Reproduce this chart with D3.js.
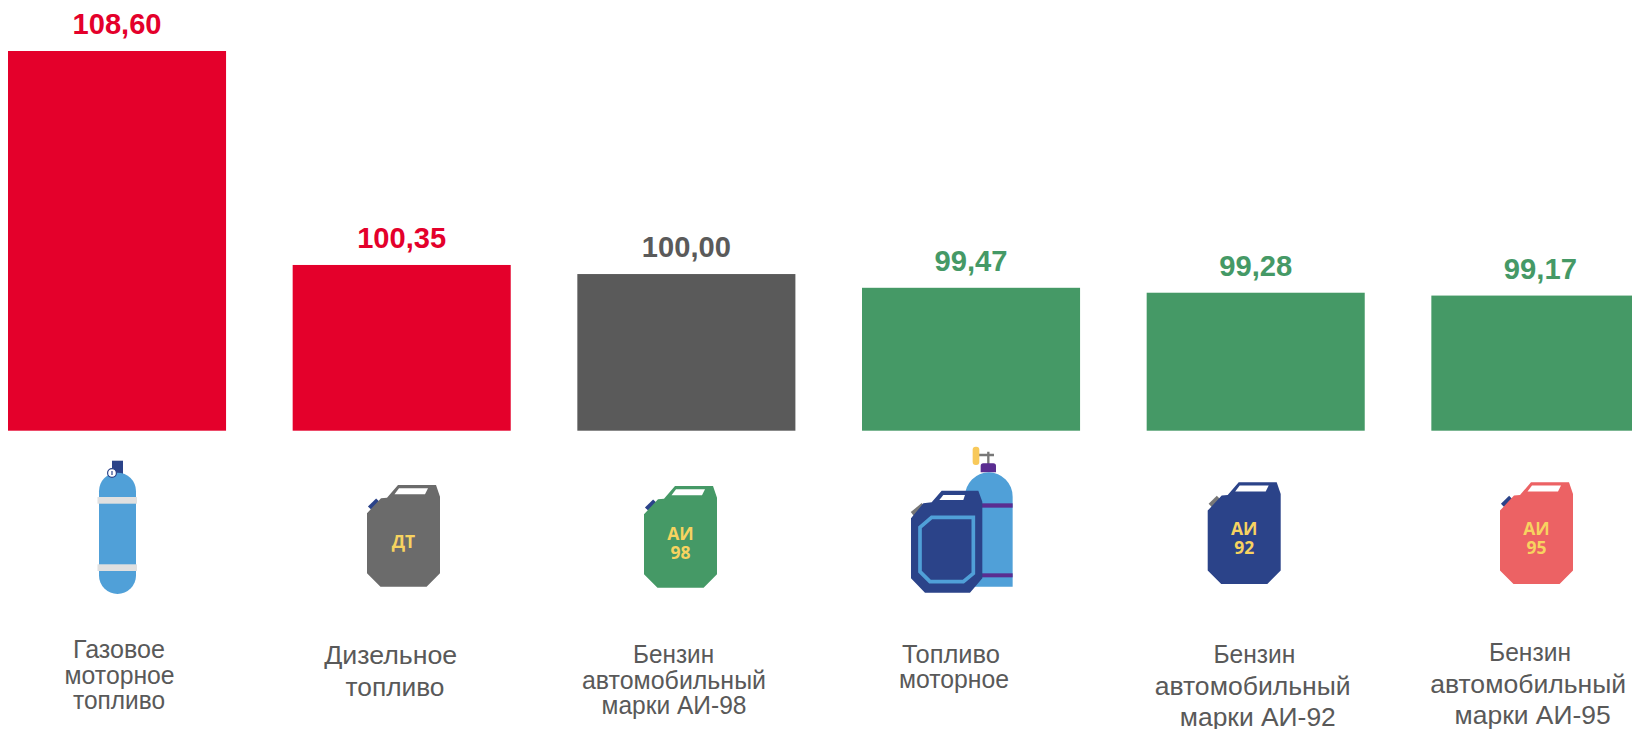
<!DOCTYPE html>
<html><head><meta charset="utf-8">
<script src="https://cdnjs.cloudflare.com/ajax/libs/d3/7.8.5/d3.min.js"></script>
<style>html,body{margin:0;padding:0;background:#fff;overflow:hidden}svg{display:block}text{font-family:"Liberation Sans",Arial,sans-serif}</style>
</head><body><svg id="c" width="1632" height="729"></svg>
<script>
const categories = ["Газовое моторное топливо","Дизельное топливо","Бензин автомобильный марки АИ-98","Топливо моторное","Бензин автомобильный марки АИ-92","Бензин автомобильный марки АИ-95"];
const values = [108.60,100.35,100.00,99.47,99.28,99.17];
const groups = ["above","above","base","below","below","below"];
const categoryLines = [
  ["Газовое","моторное","топливо"],
  ["Дизельное","топливо"],
  ["Бензин","автомобильный","марки АИ-98"],
  ["Топливо","моторное"],
  ["Бензин","автомобильный","марки АИ-92"],
  ["Бензин","автомобильный","марки АИ-95"]
];
const canBadges = [null,["ДТ"],["АИ","98"],null,["АИ","92"],["АИ","95"]];

// ---- layout / style (separate from data)
const color = d3.scaleOrdinal(["above","base","below"],["#e4002b","#5a5a5a","#459966"]);
const x = d3.scaleBand(categories,[8,1649.4]).paddingInner(0.234);
const y = d3.scaleLinear([93.96,108.6],[430.7,51]);
const svg = d3.select("#c");
const fmt = v => v.toFixed(2).replace(".",",");

svg.append("g").selectAll("rect").data(categories).join("rect")
  .attr("x",d=>x(d)).attr("width",x.bandwidth())
  .attr("y",(d,i)=>y(values[i])).attr("height",(d,i)=>y(y.domain()[0])-y(values[i]))
  .attr("fill",(d,i)=>color(groups[i]));

svg.append("g").selectAll("text").data(categories).join("text")
  .attr("x",d=>x(d)+x.bandwidth()/2).attr("y",(d,i)=>y(values[i])-17)
  .attr("text-anchor","middle").attr("font-size",30).attr("font-weight",700)
  .attr("textLength",(d,i)=>values[i]>=100?89:73).attr("lengthAdjust","spacingAndGlyphs")
  .attr("fill",(d,i)=>color(groups[i])).text((d,i)=>fmt(values[i]));

// category labels: [centre x, baseline, fitted width] per line
const labelPlace = [
  [[119,658,92],[119.6,684,110],[119,709,92]],
  [[390.7,664,133],[395,696,99]],
  [[673.6,663,81],[674,689,184],[674,714,145]],
  [[951,662.7,98],[954,688,110]],
  [[1254.4,662.7,82],[1252.7,695,196],[1257.8,726,156]],
  [[1530,660.7,82],[1528.2,692.7,196],[1532.6,724,156]]
];
const labelSize = [26,25,26,26,25,25];
const labels = svg.append("g");
categoryLines.forEach((lines,i)=>lines.forEach((t,j)=>{
  const p = labelPlace[i][j];
  labels.append("text").attr("x",p[0]).attr("y",p[1]).attr("text-anchor","middle")
    .attr("font-size",labelSize[i]).attr("fill","#595959")
    .attr("textLength",p[2]).attr("lengthAdjust","spacingAndGlyphs").text(t);
}));

// icons
const line = d3.line().curve(d3.curveLinearClosed);
const NAVY="#2b4389", BLUE="#50a0d8", YEL="#f7d360";
function can(cx,top,body,spout,badge,by){
  const g = svg.append("g").attr("transform",`translate(${cx-36.5},${top})`);
  g.append("line").attr("x1",2.5).attr("y1",23).attr("x2",10.7).attr("y2",15)
    .attr("stroke",spout).attr("stroke-width",4.5);
  g.append("path").attr("fill",body)
    .attr("d",line([[31,0],[69,0],[73,11.7],[73,88.3],[59.6,101.7],[13.5,101.7],[0,88.3],[0,28.3],[14,13.3],[20,12.7]]));
  g.append("path").attr("fill","#fff").attr("d",line([[32,3.3],[61,3.3],[58,9.3],[27.5,9.3]]));
  const tx = g.append("text").attr("text-anchor","middle").attr("font-size",17.5).attr("font-weight",700)
    .style("font-family","'Open Sans',sans-serif").attr("fill",YEL);
  badge.forEach((t,k)=>tx.append("tspan").attr("x",36.5).attr("y",by[k]-top).text(t));
}
function bottle(){
  const g = svg.append("g");
  g.append("rect").attr("x",112).attr("y",460.7).attr("width",11).attr("height",14).attr("fill",NAVY);
  g.append("rect").attr("x",99).attr("y",472.7).attr("width",37).attr("height",121.3).attr("rx",18.5).attr("fill",BLUE);
  [497,564.3].forEach(v=>g.append("rect").attr("x",97.5).attr("y",v).attr("width",39.5).attr("height",6.7).attr("fill","#e0e0e0"));
  g.append("circle").attr("cx",112).attr("cy",473).attr("r",4.4).attr("fill","#fff").attr("stroke",NAVY).attr("stroke-width",1.2);
  g.append("line").attr("x1",112).attr("y1",471).attr("x2",112).attr("y2",475).attr("stroke",NAVY).attr("stroke-width",1.2);
}
function combo(){
  const g = svg.append("g").attr("transform","translate(880,440) scale(0.3333)");
  g.append("path").attr("d","M285,45H342M325,35V72").attr("stroke","#777").attr("stroke-width",7).attr("fill","none");
  g.append("rect").attr("x",278).attr("y",20).attr("width",20).attr("height",55).attr("rx",9).attr("fill","#f8c95a");
  g.append("path").attr("d","M302,97V78Q302,70 310,70H340Q348,70 348,78V97Z").attr("fill","#5a2d91");
  g.append("path").attr("d","M255,440V170A71.5,73 0 0 1 398,170V440Z").attr("fill",BLUE);
  [[190,13],[400,12]].forEach(s=>g.append("rect").attr("x",300).attr("y",s[0]).attr("width",98).attr("height",s[1]).attr("fill","#5a2d91"));
  g.append("line").attr("x1",97).attr("y1",222).attr("x2",130).attr("y2",195).attr("stroke","#777").attr("stroke-width",15);
  g.append("path").attr("fill",NAVY).attr("d",line([[185,152],[295,152],[307,185],[307,415],[270,458],[135,458],[93,415],[93,235],[130,190],[155,187]]));
  g.append("path").attr("fill","#fff").attr("d",line([[190,165],[255,165],[250,180],[178,180]]));
  g.append("path").attr("fill","none").attr("stroke",BLUE).attr("stroke-width",11)
    .attr("d",line([[155,232],[280,232],[280,400],[250,425],[150,425],[120,395],[120,262]]));
}
bottle();
can(403.5,485,"#6b6b6b",NAVY,canBadges[1],[548]);
can(680.5,486,"#459966",NAVY,canBadges[2],[539.5,558.5]);
combo();
can(1244.2,482.3,NAVY,"#777",canBadges[4],[535.5,554.5]);
can(1536.5,482.3,"#ec6264",NAVY,canBadges[5],[535.5,554.5]);
</script></body></html>
